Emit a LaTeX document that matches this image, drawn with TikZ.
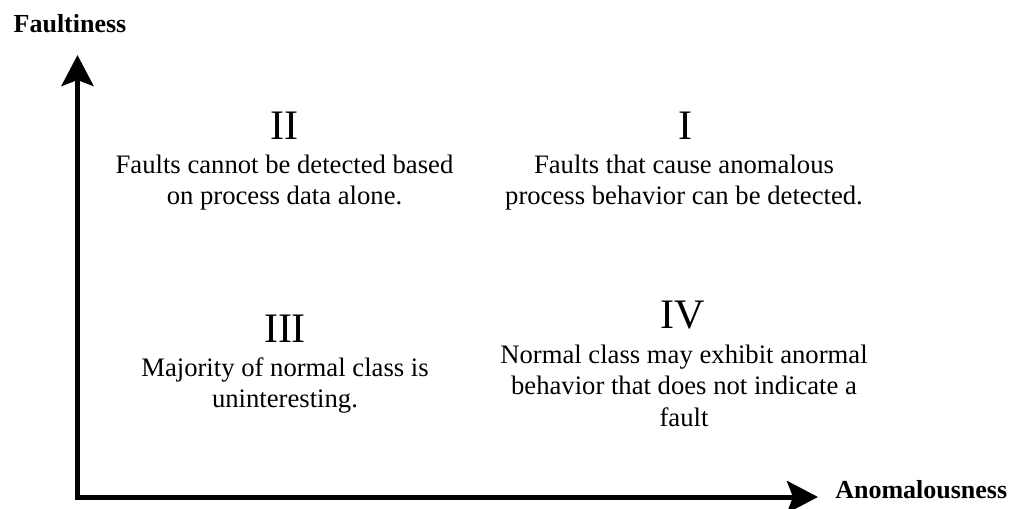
\documentclass[tikz,border=0pt]{standalone}
\usepackage{fontspec}
\setmainfont{Liberation Serif}
\usetikzlibrary{arrows.meta}
\begin{document}
\begin{tikzpicture}[x=0.75pt,y=-0.75pt,
  axis/.style={line width=3.75pt,line join=miter,
    {Stealth[length=23.25pt,width=24pt,inset=4.5pt]}-{Stealth[length=23.25pt,width=24pt,inset=4.5pt]}},
  numeral/.style={anchor=base,inner sep=0pt,font=\fontsize{31.5pt}{36pt}\selectfont},
  % multi-line notes are placed by the baseline of their last line
  note/.style={anchor=base,inner sep=0pt,align=center,font=\fontsize{20pt}{23.6pt}\selectfont},
  axislabel/.style={inner sep=0pt,font=\fontsize{19.5pt}{22pt}\selectfont\bfseries}]
\useasboundingbox (0,0) rectangle (1011,508);

% axes
\coordinate (origin) at (77.5,497);
\coordinate (ytip) at (77.5,55);
\coordinate (xtip) at (818,497);
\draw[axis] (ytip) -- (origin) -- (xtip);

\node[axislabel,anchor=base] (ylab) at (70,32) {Faultiness};
\node[axislabel,anchor=base west] (xlab) at (835,498) {Anomalousness};

% quadrants
\node[numeral] (q2) at (284.5,139) {II};
\node[note] (t2) at (284.5,204.5) {Faults cannot be detected based\\on process data alone.};

\node[numeral] (q1) at (685,139) {I};
\node[note] (t1) at (684,204.5) {Faults that cause anomalous\\process behavior can be detected.};

\node[numeral] (q3) at (285,342) {III};
\node[note] (t3) at (285,407.5) {Majority of normal class is\\uninteresting.};

\node[numeral] (q4) at (683,328) {IV};
\node[note] (t4) at (684,426) {Normal class may exhibit anormal\\behavior that does not indicate a\\fault};
\end{tikzpicture}
\end{document}
